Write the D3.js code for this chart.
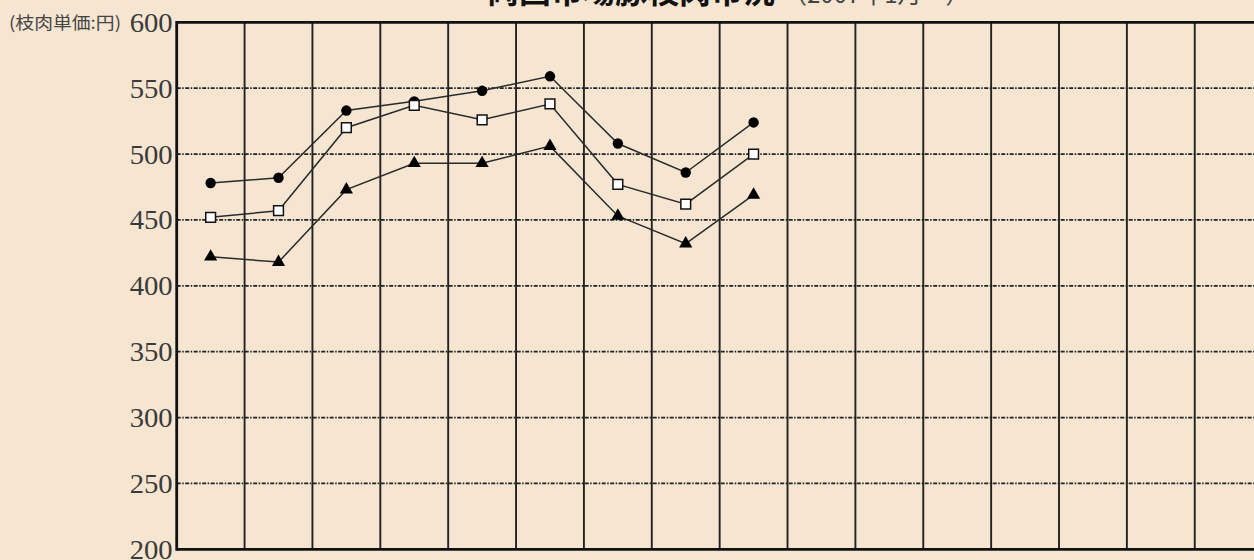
<!DOCTYPE html>
<html>
<head>
<meta charset="utf-8">
<script src="https://cdn.jsdelivr.net/npm/d3@7"></script>
<style>
  html, body { margin: 0; padding: 0; background: #f6e5d1; overflow: hidden; }
  svg { display: block; }
</style>
</head>
<body>
<svg id="chart" width="1254" height="560"></svg>
<script>
// 月（横軸のカテゴリ）
const months = ["07/1","07/2","07/3","07/4","07/5","07/6","07/7","07/8","07/9","07/10","07/11","07/12",
                "08/1","08/2","08/3","08/4","08/5","08/6"];
// 枝肉単価（円/kg）
const jouValues  = [478, 482, 533, 540, 548, 559, 508, 486, 524];   // ●
const chuuValues = [452, 457, 520, 537, 526, 538, 477, 462, 500];   // □
const namiValues = [422, 418, 473, 493, 493, 506, 453, 432, 469];   // ▲
const yTicks = [200, 250, 300, 350, 400, 450, 500, 550, 600];

const svg = d3.select("#chart");
const plotLeft = 176.7, plotTop = 22.3, plotBottom = 549.3, colW = 67.87;

const x = d3.scaleBand()
  .domain(months)
  .range([plotLeft, plotLeft + months.length * colW]);
const y = d3.scaleLinear().domain([200, 600]).range([plotBottom, plotTop]);

// タイトル（上部で切れている）
const title = svg.append("text")
  .attr("x", 487).attr("y", 3)
  .attr("font-family", "'Noto Sans CJK JP', sans-serif")
  .attr("fill", "#111");
title.append("tspan").attr("font-size", 32).attr("font-weight", 700).text("両国市場豚枝肉市況");
title.append("tspan").attr("font-size", 24).attr("font-weight", 400).attr("fill", "#444")
  .attr("dx", 8).text("（2007年1月～）");

// 横グリッド（一点鎖線）
svg.append("g")
  .selectAll("line")
  .data(yTicks.filter(v => v > 200 && v < 600))
  .join("line")
  .attr("x1", plotLeft).attr("x2", 1254)
  .attr("y1", d => y(d)).attr("y2", d => y(d))
  .attr("stroke", "#222")
  .attr("stroke-width", 1.8)
  .attr("stroke-dasharray", "4,1.5,1.5,1.5");

// 縦グリッド
svg.append("g")
  .selectAll("line")
  .data(months.slice(1))
  .join("line")
  .attr("x1", d => x(d)).attr("x2", d => x(d))
  .attr("y1", plotTop).attr("y2", plotBottom)
  .attr("stroke", "#222")
  .attr("stroke-width", 1.9);

// 枠
svg.append("line").attr("x1", plotLeft).attr("x2", 1254).attr("y1", plotTop).attr("y2", plotTop)
  .attr("stroke", "#111").attr("stroke-width", 2.8);
svg.append("line").attr("x1", plotLeft).attr("x2", 1254).attr("y1", plotBottom).attr("y2", plotBottom)
  .attr("stroke", "#111").attr("stroke-width", 2.8);
svg.append("line").attr("x1", plotLeft).attr("x2", plotLeft).attr("y1", plotTop - 1.4).attr("y2", plotBottom + 1.4)
  .attr("stroke", "#111").attr("stroke-width", 2.8);

// 縦軸ラベル
svg.append("g")
  .selectAll("text")
  .data(yTicks)
  .join("text")
  .attr("x", plotLeft - 4)
  .attr("y", d => y(d))
  .attr("dy", "0.34em")
  .attr("text-anchor", "end")
  .attr("font-family", "'Liberation Serif', 'DejaVu Serif', serif")
  .attr("font-size", 28)
  .attr("textLength", 43)
  .attr("lengthAdjust", "spacingAndGlyphs")
  .attr("fill", "#3a3a3a")
  .text(d => d);

svg.append("text")
  .attr("x", 9).attr("y", y(600)).attr("dy", "0.38em")
  .attr("font-family", "'Noto Sans CJK JP', sans-serif")
  .attr("font-size", 17)
  .attr("textLength", 112)
  .attr("lengthAdjust", "spacingAndGlyphs")
  .attr("fill", "#444")
  .text("(枝肉単価:円)");

// 横軸ラベル（画面外）
svg.append("g")
  .selectAll("text")
  .data(months)
  .join("text")
  .attr("x", d => x(d) + x.bandwidth() / 2)
  .attr("y", plotBottom + 28)
  .attr("text-anchor", "middle")
  .attr("font-size", 16)
  .text(d => d);

const series = [
  { name: "上", values: jouValues,  shape: d3.symbolCircle,   size: 85,  fill: "#000" },
  { name: "中", values: chuuValues, shape: d3.symbolSquare,   size: 95,  fill: "#fff" },
  { name: "並", values: namiValues, shape: d3.symbolTriangle, size: 75,  fill: "#000" }
];

const line = d3.line()
  .x((d, i) => x(months[i]) + x.bandwidth() / 2)
  .y(d => y(d));

series.forEach(s => {
  svg.append("path")
    .attr("d", line(s.values))
    .attr("fill", "none")
    .attr("stroke", "#2a2a2a")
    .attr("stroke-width", 1.5);

  svg.append("g")
    .selectAll("path")
    .data(s.values)
    .join("path")
    .attr("transform", (d, i) => `translate(${x(months[i]) + x.bandwidth() / 2},${y(d)})`)
    .attr("d", d3.symbol().type(s.shape).size(s.size))
    .attr("fill", s.fill)
    .attr("stroke", "#111")
    .attr("stroke-width", s.fill === "#fff" ? 1.5 : 0);
});
</script>
</body>
</html>
